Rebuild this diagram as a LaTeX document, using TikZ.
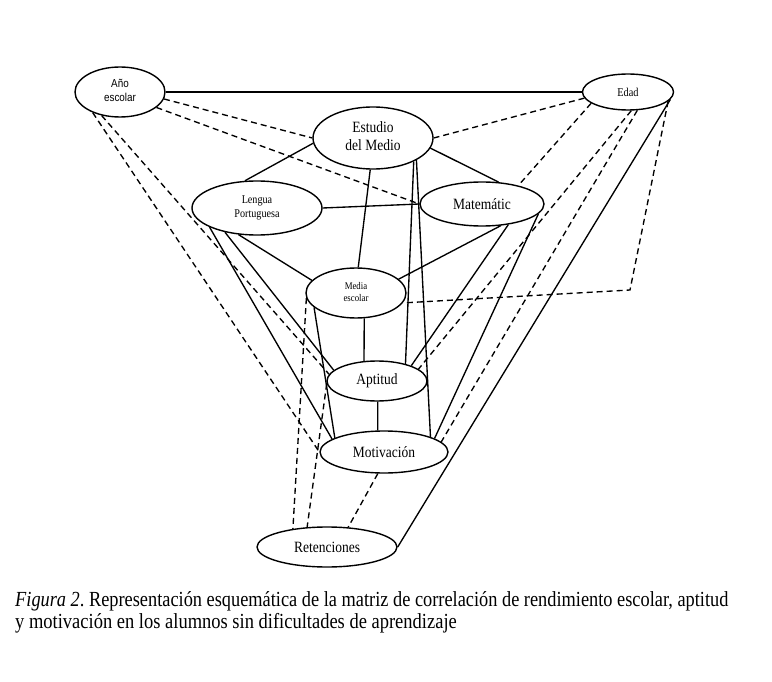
\documentclass[tikz,border=0pt]{standalone}
\usepackage{graphicx}
\usepackage{fontspec}
\setmainfont{Liberation Serif}
\newfontfamily\arialf{Liberation Sans}
\usetikzlibrary{shapes.geometric}
\newcommand{\sqz}[1]{\scalebox{0.86}[1]{#1}}
\newcommand{\twol}[2]{\begin{tabular}{@{}c@{}}#1\\#2\end{tabular}}
\begin{document}
\begin{tikzpicture}[x=1pt,y=-1pt,
  el/.style={ellipse,draw,line width=1.4pt,inner sep=0pt},
  sl/.style={line width=1.35pt},
  dl/.style={line width=1.35pt,dash pattern=on 6pt off 4pt},
  captxt/.style={anchor=base west,inner sep=0pt}]
\useasboundingbox[fill=white] (0,0) rectangle (772,682);
% nodes
\node[el,minimum width=90pt,minimum height=50pt] (ano) at (120,92)
  {\sqz{\arialf\fontsize{11.5}{14}\selectfont\twol{Año}{escolar}}};
\node[el,minimum width=91pt,minimum height=36pt] (edad) at (628,92)
  {\sqz{\fontsize{12}{13}\selectfont Edad}};
\node[el,minimum width=120pt,minimum height=62pt] (est) at (373,138)
  {\sqz{\fontsize{15.7}{18}\selectfont\twol{Estudio}{del Medio}}};
\node[el,minimum width=130pt,minimum height=54pt] (len) at (257,208)
  {\sqz{\fontsize{11.8}{14}\selectfont\twol{Lengua}{Portuguesa}}};
\node[el,minimum width=124pt,minimum height=44pt] (mat) at (482,204)
  {\sqz{\fontsize{15.7}{18}\selectfont Matemátic}};
\node[el,minimum width=100pt,minimum height=50pt] (med) at (356,293)
  {\sqz{\fontsize{10.2}{12}\selectfont\twol{Media}{escolar}}};
\node[el,minimum width=100pt,minimum height=40pt] (apt) at (377,381)
  {\sqz{\fontsize{15.7}{18}\selectfont Aptitud}};
\node[el,minimum width=128pt,minimum height=42pt] (mot) at (384,452)
  {\sqz{\fontsize{15.7}{18}\selectfont Motivación}};
\node[el,minimum width=140pt,minimum height=40pt] (ret) at (327,547)
  {\sqz{\fontsize{15.7}{18}\selectfont Retenciones}};
\coordinate (c1) at (630,290);
% connectors
\draw[line width=2.6pt] (ano.east) -- (edad.west);
\draw[dl] (ano.-9) -- (est.west);
\draw[dl] (ano.-23) -- (mat.west);
\draw[dl] (ano.-128) -- (apt.172);
\draw[dl] (ano.-143) -- (mot.west);
\draw[sl] (est.185) -- (len.114);
\draw[sl] (est.-10) -- (mat.53);
\draw[sl] (len.east) -- (mat.west);
\draw[sl] (est.-95) -- (med.85);
\draw[sl] (est.-30) -- (apt.31);
\draw[sl] (est.-27) -- (mot.18);
\draw[sl] (len.-125) -- (med.164);
\draw[sl] (len.-143) -- (apt.166);
\draw[sl] (len.-158) -- (mot.166);
\draw[sl] (mat.-49) -- (med.18);
\draw[sl] (mat.-38) -- (apt.24);
\draw[sl] (mat.-10) -- (mot.15);
\draw[sl] (med.-72) -- (apt.123);
\draw[sl] (apt.-88) -- (mot.106);
\draw[sl] (med.-161) -- (mot.164);
\draw[dl] (med.-174) -- (ret.152);
\draw[dl] (apt.183) -- (ret.135);
\draw[dl] (mot.-106) -- (ret.43);
\draw[sl] (edad.-10) -- (ret.east);
\draw[dl] (edad.-13) -- (c1) -- (med.-12);
\draw[dl] (edad.188) -- (est.east);
\draw[dl] (edad.197) -- (mat.27);
\draw[dl] (edad.-80) -- (apt.16);
\draw[dl] (edad.-63) -- (mot.10);
% caption
\node[captxt] (cap1) at (15,606) {\scalebox{0.853}[1]{\fontsize{21.5}{22}\selectfont\textit{Figura 2}.~Representación esquemática de la matriz de correlación de rendimiento escolar, aptitud}};
\node[captxt] (cap2) at (15,628) {\sqz{\fontsize{21.5}{22}\selectfont y motivación en los alumnos sin dificultades de aprendizaje}};
\end{tikzpicture}
\end{document}
